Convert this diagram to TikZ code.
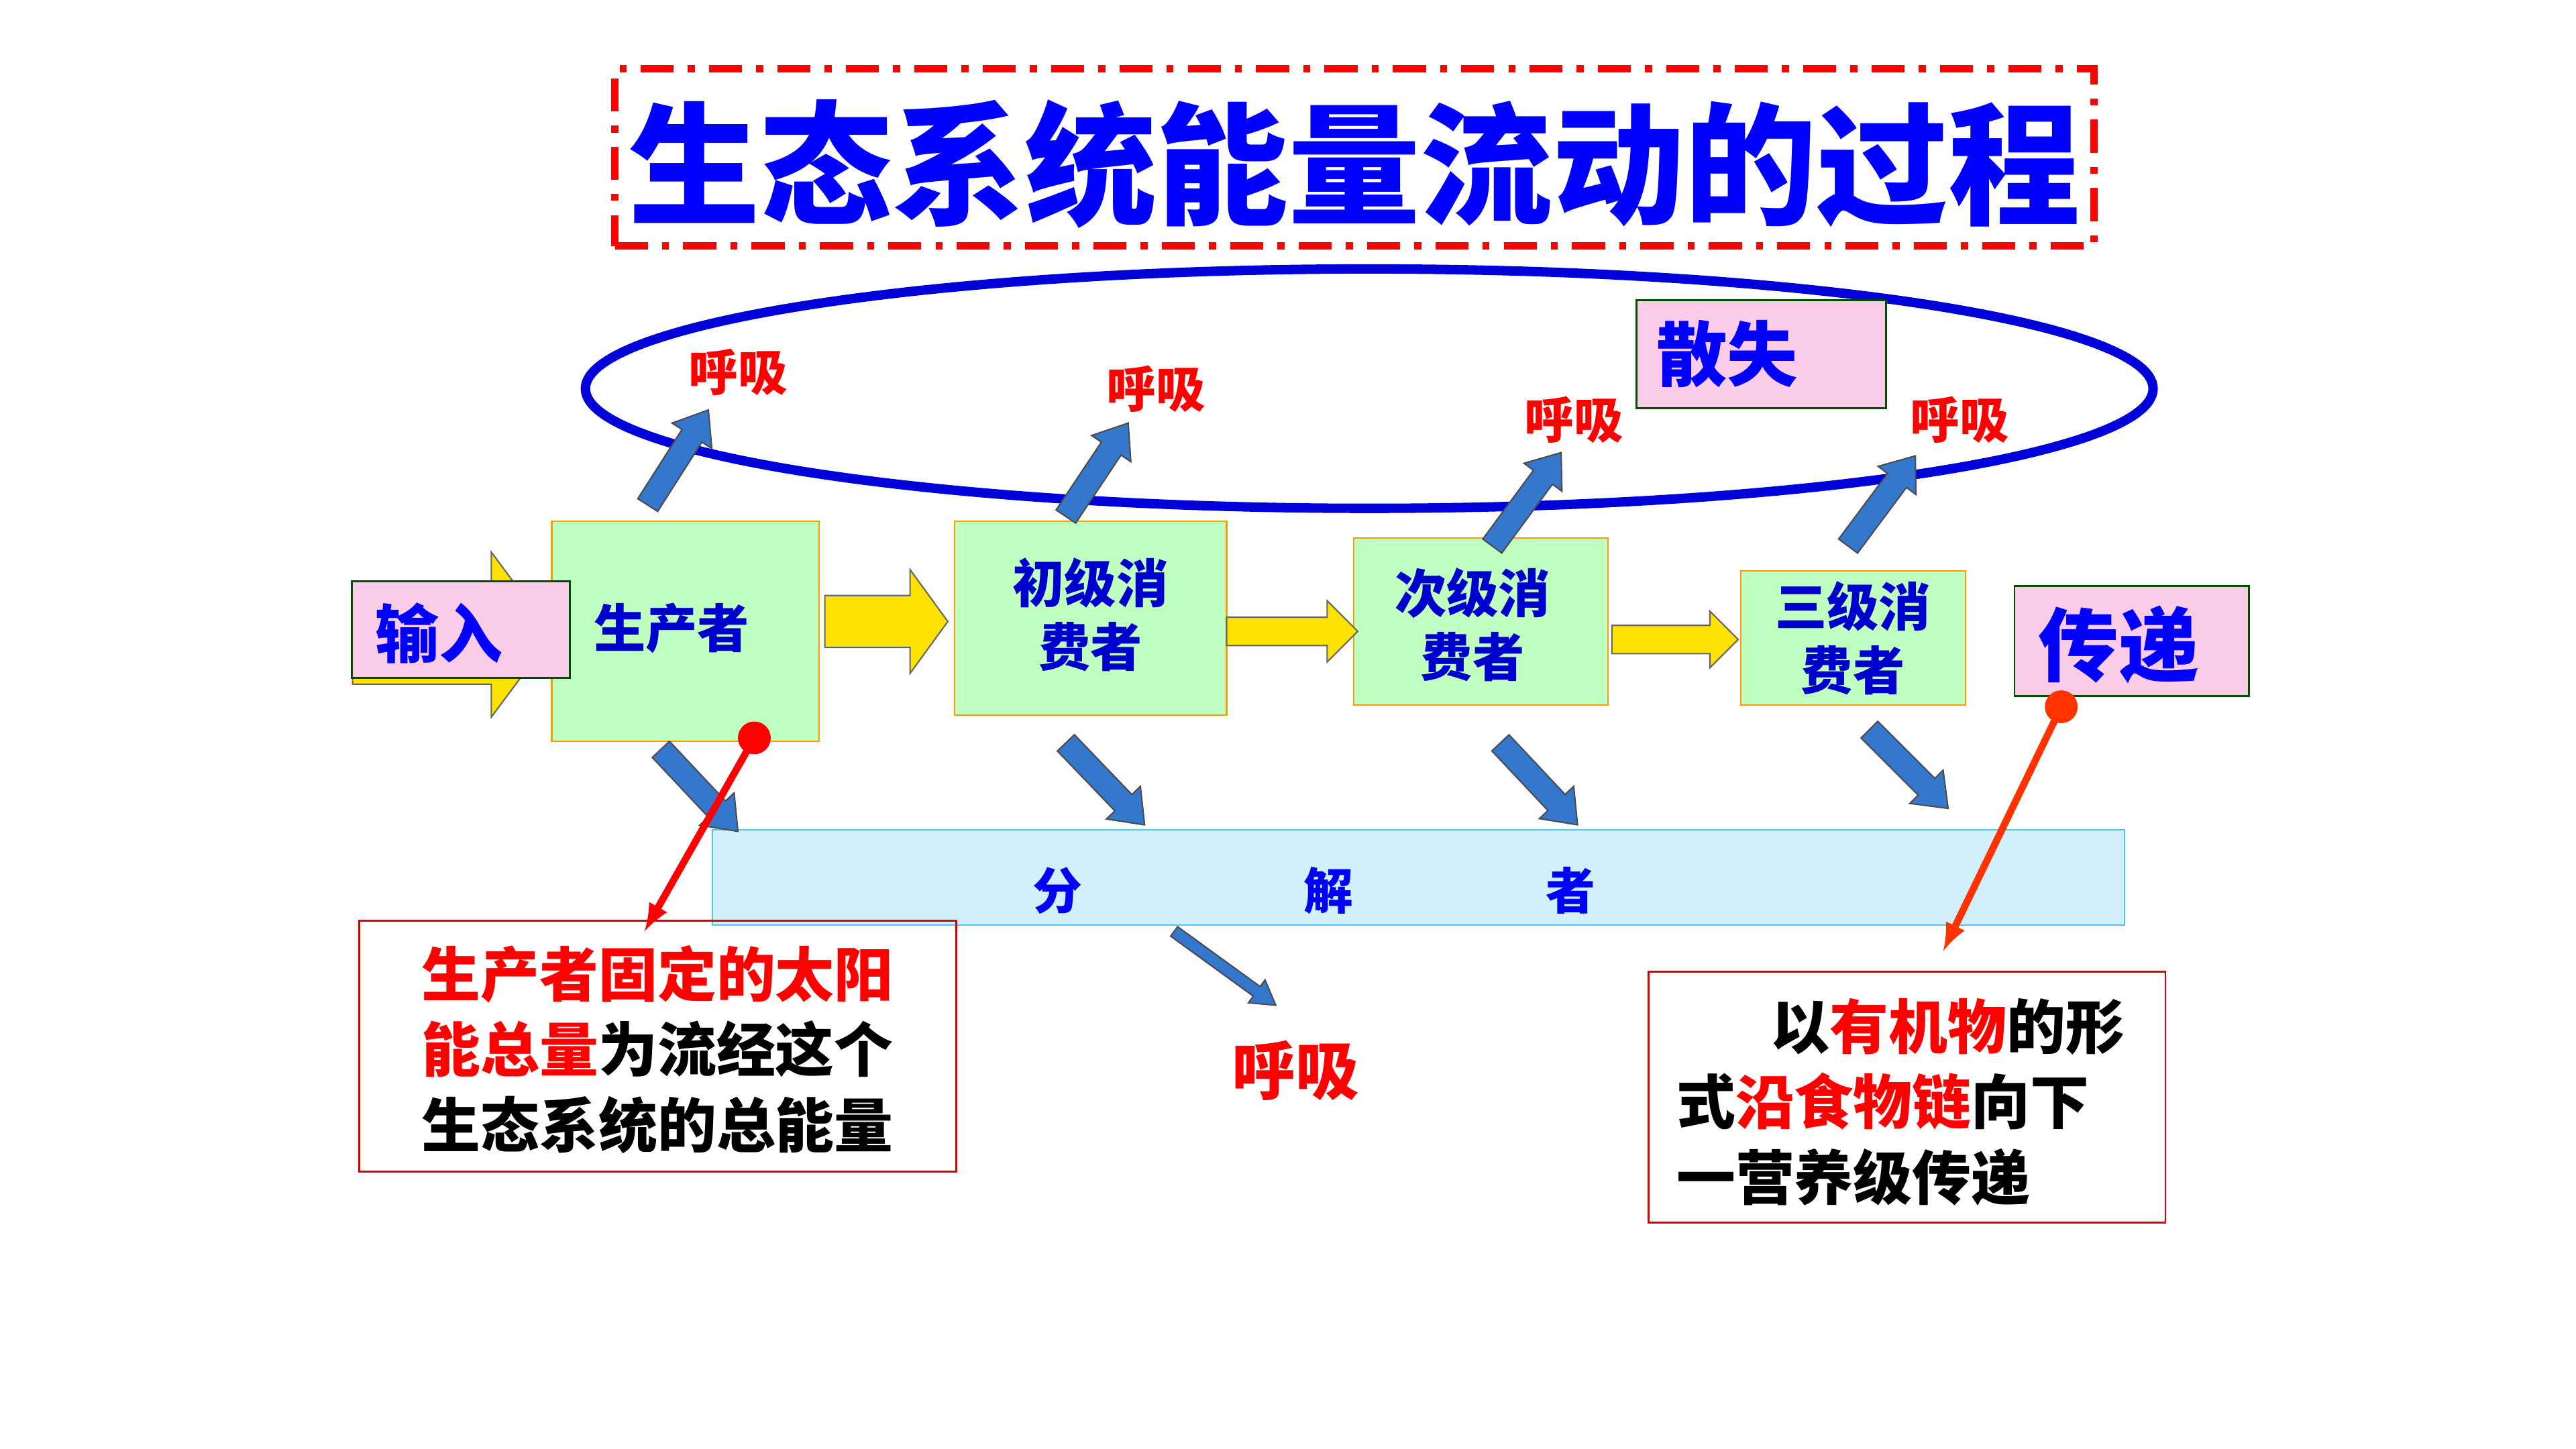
\documentclass[tikz,border=0pt]{standalone}
\usepackage{fontspec}
\setmainfont{Noto Sans CJK SC}
\usetikzlibrary{calc}
\def\u{0.6956pt}
\begin{document}
\begin{tikzpicture}[x=0.02445cm,y=-0.02445cm,
  fat/.style={draw=black!70,fill=blue!55!cyan!60!gray,line width=0.6pt,line join=miter},
  yarr/.style={draw=black!60,fill=yellow!85!orange,line width=0.6pt},
  box/.style={draw=orange!80!yellow,fill=green!25,line width=0.6pt,inner sep=0pt},
  pink/.style={draw=black!70!green,fill=magenta!20,line width=0.8pt},
  hx/.style={text=red,font=\bfseries\fontsize{21}{24}\selectfont},
  lbl/.style={text=blue!80!black,font=\bfseries\fontsize{22}{27}\selectfont,align=center}]
\useasboundingbox (0,0) rectangle (38.4cm,-21.6cm);
% #1 style #2 from #3 to #4 shaft half #5 head half #6 head length
\newcommand\arr[6]{\draw[#1] ($(#2)!#4!90:(#3)$) -- ($($(#3)!#6!(#2)$)!#4!90:(#3)$) -- ($($(#3)!#6!(#2)$)!#5!90:(#3)$) -- (#3) -- ($($(#3)!#6!(#2)$)!#5!-90:(#3)$) -- ($($(#3)!#6!(#2)$)!#4!-90:(#3)$) -- ($(#2)!#4!-90:(#3)$) -- cycle;}
% title
\node[draw=red,line width=3pt,dash pattern=on 14pt off 6pt on 3pt off 6pt,minimum width=902*\u,minimum height=108*\u] (tb) at (826,96) {};
\node[text=blue,font=\bfseries\fontsize{56}{60}\selectfont] (title) at (826,100) {生态系统能量流动的过程};
% ellipse
\draw[blue!85!black,line width=4pt] (835,237) ellipse [x radius=478,y radius=73];
\node[pink,minimum width=152*\u,minimum height=66*\u] (sanshi) at (1074,216) {};
\node[text=blue,font=\bfseries\fontsize{30}{34}\selectfont,anchor=west] (sstxt) at (1005,216) {散失};
\node[hx] (h1) at (450,227) {呼吸};
\node[hx] (h2) at (705,237) {呼吸};
\node[hx] (h3) at (960,256) {呼吸};
\node[hx] (h4) at (1195,256) {呼吸};
% decomposer box
\node[draw=cyan!70,fill=cyan!18,minimum width=861*\u,minimum height=58*\u,line width=0.6pt] (fen) at (865,535) {};
\node[text=blue,font=\bfseries\fontsize{21}{24}\selectfont] (f1) at (645,543) {分};
\node[text=blue,font=\bfseries\fontsize{21}{24}\selectfont] (f2) at (810,543) {解};
\node[text=blue,font=\bfseries\fontsize{21}{24}\selectfont] (f3) at (958,543) {者};
% input arrow
\coordinate (ia) at (215,387); \coordinate (ib) at (337,387);
\arr{yarr}{ia}{ib}{21pt}{35pt}{26pt}
% trophic boxes
\node[box,minimum width=163*\u,minimum height=134*\u] (p) at (418,385) {};
\node[lbl,anchor=west] (ptxt) at (357,383) {生产者};
\node[box,minimum width=166*\u,minimum height=118*\u] (c1) at (665,377) {};
\node[lbl] (c1t) at (665,375) {初级消\\费者};
\node[box,minimum width=155*\u,minimum height=102*\u] (c2) at (903,379) {};
\node[lbl] (c2t) at (898,381) {次级消\\费者};
\node[box,minimum width=137*\u,minimum height=82*\u] (c3) at (1130,389) {};
\node[lbl] (c3t) at (1130,389) {三级消\\费者};
\node[pink,minimum width=133*\u,minimum height=59*\u] (shuru) at (281,384) {};
\node[text=blue,font=\bfseries\fontsize{27}{30}\selectfont,anchor=west] (srt) at (224,386) {输入};
\node[pink,minimum width=143*\u,minimum height=67*\u] (chuandi) at (1300,391) {};
\node[text=blue,font=\bfseries\fontsize{34}{38}\selectfont,anchor=west] (cdt) at (1238,393) {传递};
% yellow arrows
\coordinate (y1a) at (503,379); \coordinate (y1b) at (578,379);
\coordinate (y2a) at (748,385); \coordinate (y2b) at (828,385);
\coordinate (y3a) at (983,390); \coordinate (y3b) at (1060,390);
\arr{yarr}{y1a}{y1b}{11pt}{22pt}{16pt}
\arr{yarr}{y2a}{y2b}{6pt}{13pt}{13pt}
\arr{yarr}{y3a}{y3b}{6pt}{12pt}{12pt}
% blue arrows
\coordinate (a1) at (395,308); \coordinate (b1) at (432,250);
\coordinate (a2) at (650,315); \coordinate (b2) at (688,258);
\coordinate (a3) at (910,333); \coordinate (b3) at (952,276);
\coordinate (a4) at (1127,333); \coordinate (b4) at (1168,278);
\coordinate (a5) at (403,457); \coordinate (b5) at (450,507);
\coordinate (a6) at (650,453); \coordinate (b6) at (698,503);
\coordinate (a7) at (915,453); \coordinate (b7) at (962,503);
\coordinate (a8) at (1140,445); \coordinate (b8) at (1188,493);
\coordinate (a9) at (716,568); \coordinate (b9) at (778,613);
\arr{fat}{a1}{b1}{5pt}{10pt}{13pt}
\arr{fat}{a2}{b2}{5pt}{10pt}{13pt}
\arr{fat}{a3}{b3}{5pt}{10pt}{13pt}
\arr{fat}{a4}{b4}{5pt}{10pt}{13pt}
\arr{fat}{a5}{b5}{5pt}{10pt}{13pt}
\arr{fat}{a6}{b6}{5pt}{10pt}{13pt}
\arr{fat}{a7}{b7}{5pt}{10pt}{13pt}
\arr{fat}{a8}{b8}{5pt}{10pt}{13pt}
\arr{fat}{a9}{b9}{2.5pt}{6pt}{10pt}
\node[text=red,font=\bfseries\fontsize{27}{30}\selectfont] (h5) at (790,653) {呼吸};
% info boxes
\node[draw=red!85!black,line width=0.8pt,minimum width=364*\u,minimum height=153*\u] (lb) at (401,638) {};
\node[font=\bfseries\fontsize{25}{32}\selectfont,align=left] (lbt) at (401,640) {\textcolor{red}{生产者固定的太阳}\\\textcolor{red}{能总量}为流经这个\\生态系统的总能量};
\node[draw=red!85!black,line width=0.8pt,minimum width=315*\u,minimum height=153*\u] (rb) at (1163,669) {};
\node[font=\bfseries\fontsize{25}{32}\selectfont,align=left] (rbt) at (1159,672) {\hspace*{1.6em}以\textcolor{red}{有机物}的形\\式\textcolor{red}{沿食物链}向下\\一营养级传递};
% pointers
\fill[red] (460,450) circle (10) coordinate (dot1);
\coordinate (t1) at (393,568);
\draw[red,line width=3pt,-latex] (dot1) -- (t1);
\fill[red!60!orange] (1257,431) circle (10) coordinate (dot2);
\coordinate (t2) at (1185,580);
\draw[red!60!orange,line width=3pt,-latex] (dot2) -- (t2);
\end{tikzpicture}
\end{document}
